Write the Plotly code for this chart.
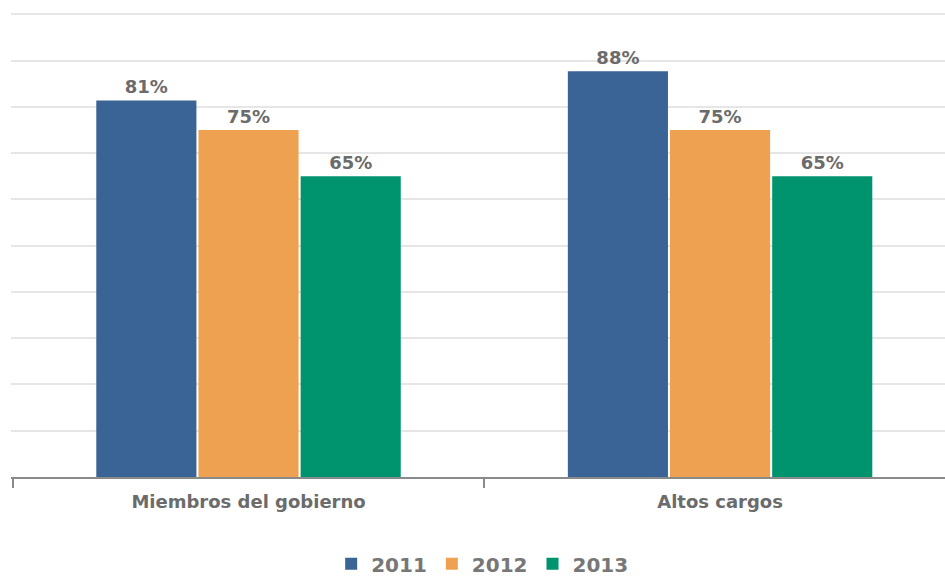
import plotly.graph_objects as go

categories = ["Miembros del gobierno", "Altos cargos"]
years = ["2011", "2012", "2013"]
values_2011 = [81.4, 87.7]
values_2012 = [75, 75]
values_2013 = [65, 65]
series = [values_2011, values_2012, values_2013]
colors = ["#3A6396", "#EEA151", "#00946E"]

fig = go.Figure()
for name, vals, col in zip(years, series, colors):
    fig.add_trace(go.Bar(
        x=categories, y=vals, name=name,
        marker=dict(color=col, line=dict(width=0)),
        texttemplate="%{y:.0f}%", textposition="outside",
        textfont=dict(family="DejaVu Sans", size=18, color="#6b6b6b", weight="bold"),
        cliponaxis=False,
    ))

fig.update_layout(
    width=945, height=578,
    barmode="group", bargap=0.35, bargroupgap=0.02,
    plot_bgcolor="white", paper_bgcolor="white",
    margin=dict(l=11, r=0, t=13, b=101, autoexpand=False),
    font=dict(family="DejaVu Sans", color="#6b6b6b"),
    showlegend=True,
    legend=dict(
        orientation="h", x=0.505, xanchor="center", y=-0.145, yanchor="top",
        font=dict(family="DejaVu Sans", size=20, color="#777777", weight="bold"),
        itemwidth=30, traceorder="normal",
    ),
)
fig.update_xaxes(
    type="category", range=[-0.5037, 1.477],
    showline=True, linecolor="#8a8a8a", linewidth=2,
    ticks="outside", tickson="boundaries", ticklen=9, tickwidth=2, tickcolor="#8a8a8a",
    tickfont=dict(family="DejaVu Sans", size=18, color="#6b6b6b", weight="bold"),
    ticklabelstandoff=7,
    showgrid=False,
)
fig.update_yaxes(
    range=[0, 100.3], dtick=10, showticklabels=False,
    showgrid=True, gridcolor="#e6e6e6", gridwidth=2,
    zeroline=False, showline=False, ticks="",
)

fig.write_html(
    "out.html",
    config={"displayModeBar": False},
    post_script="document.body.style.margin='0';document.body.style.overflow='hidden';",
)
